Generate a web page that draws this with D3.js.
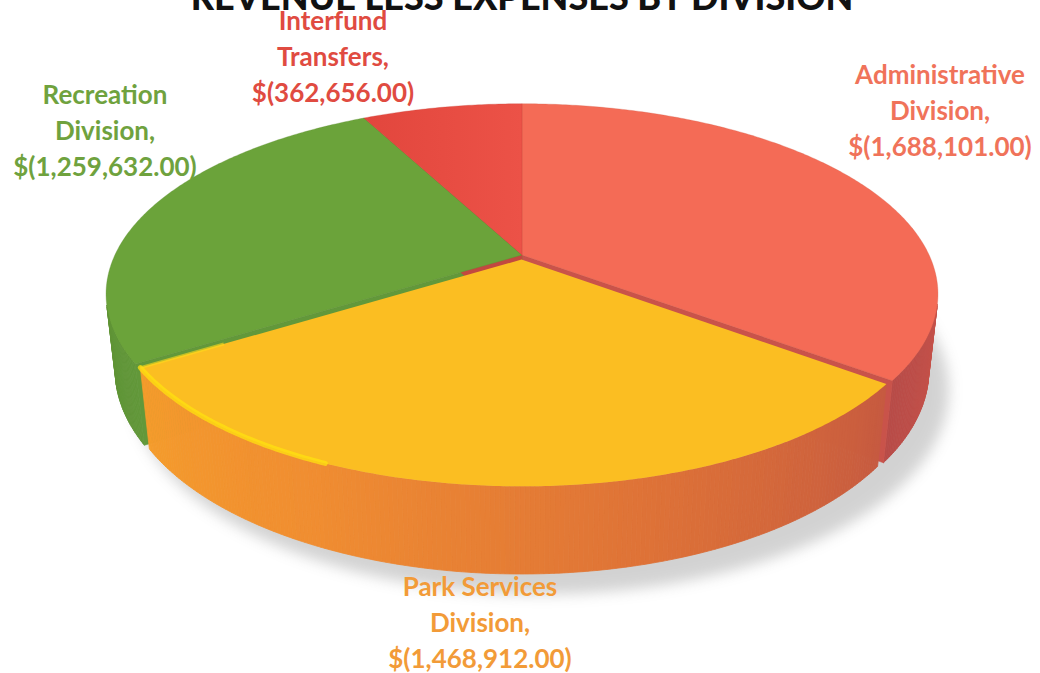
<!DOCTYPE html>
<html>
<head>
<meta charset="utf-8">
<script src="https://cdn.jsdelivr.net/npm/d3@7"></script>
<style>
  html, body { margin: 0; padding: 0; background: #ffffff; }
  svg { display: block; }
</style>
</head>
<body>
<svg id="chart" width="1040" height="673"></svg>
<script>
// ---- data ----
const title = "REVENUE LESS EXPENSES BY DIVISION";
const categories = ["Administrative Division", "Park Services Division", "Recreation Division", "Interfund Transfers"];
const categoryLines = [["Administrative", "Division,"], ["Park Services", "Division,"], ["Recreation", "Division,"], ["Interfund", "Transfers,"]];
const values = [1688101, 1468912, 1259632, 362656];

// ---- styles / layout ----
const topColors  = ["#F46B56", "#FBBE22", "#6BA33A", "#E5493F"];
const labelColors = ["#F0735A", "#F29B38", "#6FA23E", "#E04B41"];
const wallStops = [
  { dom: [100, 130], rng: ["#C9534A", "#B64A47"] },
  { dom: [240, 205, 165, 127], rng: ["#F59D2B", "#F08D31", "#DE7237", "#C65A40"] },
  { dom: [235, 260], rng: ["#62983A", "#5E9234"] },
  { dom: [330, 360], rng: ["#C24840", "#C24840"] }
];
const cutColors = ["#C9534A", "#F08D31", "#62983A", "#C24840"];
const labelPos = [[940, 84], [480, 596], [105, 104], [333, 30]];
const lineGap = 36;
const explode = [0, 0.025, 0, 0];
const radiusScale = [1, 0.982, 1, 1];

const svg = d3.select("#chart");

// projection parameters (tilted, perspective view)
const cx0 = 522, cy0 = 255;
const phi = 26.6 * Math.PI / 180;
const S = Math.sin(phi), C = Math.cos(phi);
const Ldist = 4.36, focal = 1775, depth = 0.21;

function project(x, y, z) {
  const vx = x, vy = y + Ldist * C, vz = z - Ldist * S;
  const yc = S * vy + C * vz;
  const zc = C * vy - S * vz;
  return [cx0 + focal * vx / zc, cy0 - focal * yc / zc];
}
const camera = [0, -Ldist * C, Ldist * S];

const pie = d3.pie().sort(null).value(d => d);
const arcs = pie(values);
const deg = r => r * 180 / Math.PI;
const line = d3.line();

const defs = svg.append("defs");
const blur = defs.append("filter").attr("id", "shadow").attr("x", "-20%").attr("y", "-20%").attr("width", "140%").attr("height", "140%");
blur.append("feGaussianBlur").attr("stdDeviation", 7);

const g = svg.append("g");

function rimPoint(i, a, z, off) {
  const r = radiusScale[i];
  return project(r * Math.sin(a) + off[0], r * Math.cos(a) + off[1], z);
}
function sample(a0, a1, step) {
  const n = Math.max(2, Math.ceil(Math.abs(a1 - a0) / step));
  return d3.range(n + 1).map(i => a0 + (a1 - a0) * i / n);
}

// shadow
const shadowPts = sample(0, 2 * Math.PI, 0.02).map(a => {
  const p = project(Math.sin(a) + 0.02, Math.cos(a) - 0.03, -depth - 0.02);
  return [p[0] + 10, p[1] + 5];
});
g.append("path").attr("d", line(shadowPts) + "Z")
  .attr("fill", "#7a7a7a").attr("opacity", 0.33).attr("filter", "url(#shadow)");

function offsetOf(i) {
  const a = arcs[i];
  const mid = (a.startAngle + a.endAngle) / 2;
  return [explode[i] * Math.sin(mid), explode[i] * Math.cos(mid)];
}

function drawWalls(i) {
  const a = arcs[i];
  const off = offsetOf(i);
  const r = radiusScale[i];
  const col = d3.scaleLinear().domain(wallStops[i].dom).range(wallStops[i].rng).clamp(true);
  const angs = sample(a.startAngle, a.endAngle, 0.01);
  for (let k = 0; k < angs.length - 1; k++) {
    const m = (angs[k] + angs[k + 1]) / 2;
    const px = r * Math.sin(m) + off[0], py = r * Math.cos(m) + off[1];
    const dot = Math.sin(m) * (camera[0] - px) + Math.cos(m) * (camera[1] - py);
    if (dot <= 0) continue;
    const quad = [rimPoint(i, angs[k], 0, off), rimPoint(i, angs[k + 1], 0, off),
                  rimPoint(i, angs[k + 1], -depth, off), rimPoint(i, angs[k], -depth, off)];
    const c = col(deg(m));
    g.append("path").attr("d", line(quad) + "Z").attr("fill", c).attr("stroke", c).attr("stroke-width", 0.8);
  }
}

function drawCuts(i) {
  const a = arcs[i];
  const off = offsetOf(i);
  [[a.startAngle, 1], [a.endAngle, -1]].forEach(([ang, sgn]) => {
    const nx = -sgn * Math.cos(ang), ny = sgn * Math.sin(ang);
    const mx = 0.5 * Math.sin(ang) + off[0], my = 0.5 * Math.cos(ang) + off[1];
    const dot = nx * (camera[0] - mx) + ny * (camera[1] - my);
    if (dot <= 0) return;
    const quad = [project(off[0], off[1], 0), rimPoint(i, ang, 0, off), rimPoint(i, ang, -depth, off), project(off[0], off[1], -depth)];
    g.append("path").attr("d", line(quad) + "Z").attr("fill", cutColors[i]).attr("stroke", cutColors[i]).attr("stroke-width", 0.6);
  });
}

function topPath(i) {
  const a = arcs[i];
  const off = offsetOf(i);
  const pts = [project(off[0], off[1], 0)].concat(sample(a.startAngle, a.endAngle, 0.01).map(t => rimPoint(i, t, 0, off)));
  return line(pts) + "Z";
}

// Interfund top gradient
const gi = defs.append("linearGradient").attr("id", "gInter").attr("x1", "0").attr("x2", "1").attr("y1", "0").attr("y2", "0");
gi.append("stop").attr("offset", "0%").attr("stop-color", "#E2463D");
gi.append("stop").attr("offset", "100%").attr("stop-color", "#EC5247");
const topFill = i => (i === 3 ? "url(#gInter)" : topColors[i]);

const order = [0, 2, 3];
order.forEach(i => drawWalls(i));
order.forEach(i => drawCuts(i));
order.forEach(i => {
  g.append("path").attr("d", topPath(i)).attr("fill", topFill(i))
    .attr("stroke", d3.color(topColors[i]).darker(0.4)).attr("stroke-width", 0.6).attr("stroke-opacity", 0.5);
});

// exploded front slice
drawWalls(1);
g.append("path").attr("d", topPath(1)).attr("fill", topFill(1));
// bevel highlight on front slice
(function () {
  const a = arcs[1];
  const off = offsetOf(1);
  const pts = sample(a.endAngle, a.endAngle - 0.6, 0.01).map(t => rimPoint(1, t, 0, off));
  g.append("path").attr("d", line(pts)).attr("fill", "none").attr("stroke", "#FFE10F")
    .attr("stroke-width", 5).attr("stroke-linecap", "round").attr("opacity", 0.75);
  const cornerPts = [rimPoint(1, a.endAngle, 0, off), project(off[0] + 0.8 * radiusScale[1] * Math.sin(a.endAngle), off[1] + 0.8 * radiusScale[1] * Math.cos(a.endAngle), 0)];
  g.append("path").attr("d", line(cornerPts)).attr("fill", "none").attr("stroke", "#FFDA1A")
    .attr("stroke-width", 3).attr("opacity", 0.6);
})();

// title (cropped at the top of the picture)
svg.append("text").attr("x", 522).attr("y", 10).attr("text-anchor", "middle")
  .attr("font-family", "Lato, 'Open Sans', sans-serif").attr("font-weight", 900)
  .attr("font-size", 36).attr("fill", "#111").text(title);

// labels
const fmt = d3.format(",.2f");
arcs.forEach((a, i) => {
  const lines = categoryLines[i].concat(["$(" + fmt(values[i]) + ")"]);
  const t = svg.append("text").attr("text-anchor", "middle")
    .attr("font-family", "Lato, 'Open Sans', sans-serif").attr("font-weight", 700)
    .attr("font-size", 26).attr("fill", labelColors[i]);
  lines.forEach((s, k) => {
    t.append("tspan").attr("x", labelPos[i][0]).attr("y", labelPos[i][1] + k * lineGap).text(s);
  });
});
</script>
</body>
</html>
